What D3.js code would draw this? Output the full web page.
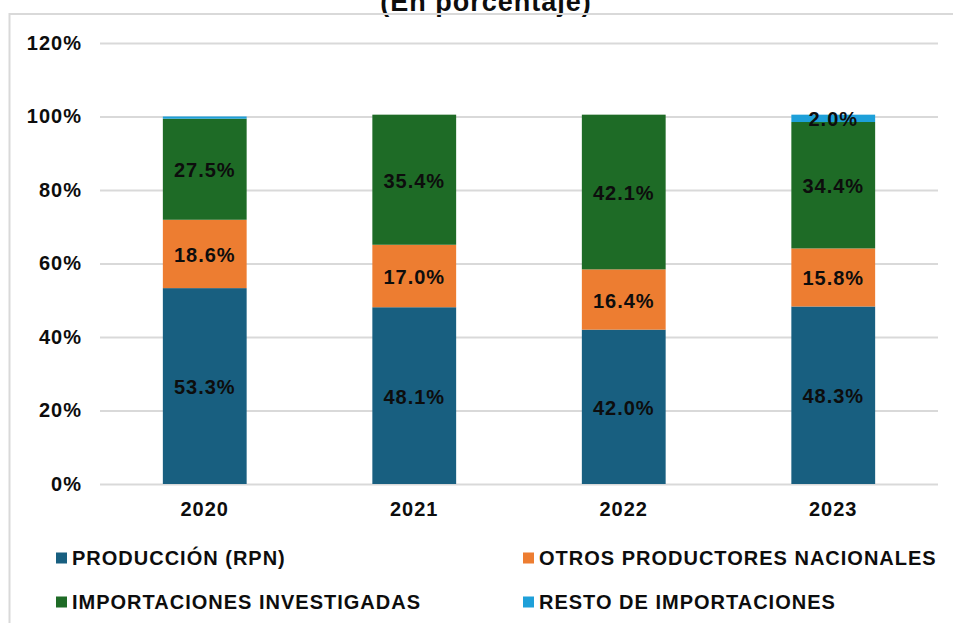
<!DOCTYPE html>
<html>
<head>
<meta charset="utf-8">
<script src="https://cdn.jsdelivr.net/npm/d3@7"></script>
<style>
  body { margin: 0; background: #fff; }
  svg text { font-family: "Liberation Sans", Arial, sans-serif; font-weight: bold; fill: #0d0d0d; }
</style>
</head>
<body>
<div id="chartArea"></div>
<script>
var years = ['2020', '2021', '2022', '2023'];
var seriesNames = ['PRODUCCIÓN (RPN)', 'OTROS PRODUCTORES NACIONALES', 'IMPORTACIONES INVESTIGADAS', 'RESTO DE IMPORTACIONES'];
var produccion = [53.3, 48.1, 42.0, 48.3];
var otros = [18.6, 17.0, 16.4, 15.8];
var investigadas = [27.5, 35.4, 42.1, 34.4];
var resto = [0.6, 0, 0, 2.0];
var yTicks = [0, 20, 40, 60, 80, 100, 120];
var colors = ['#185f80', '#ed7d31', '#1e6b26', '#1ea0d9'];

var keys = ['p', 'o', 'i', 'r'];
var table = years.map(function (y, i) {
    return {year: y, p: produccion[i], o: otros[i], i: investigadas[i], r: resto[i]};
});

var W = 953, H = 623;
var margin = {top: 43, right: 15, bottom: 139, left: 100};
var fontSize = '20px', spacing = '1px';

var svg = d3.select('#chartArea').append('svg')
    .attr('width', W)
    .attr('height', H);

// title, mostly cut off at the top
svg.append('text')
    .attr('x', 486)
    .attr('y', 11)
    .attr('text-anchor', 'middle')
    .style('font-size', '27px')
    .style('letter-spacing', '1px')
    .text('(En porcentaje)');

// frame
svg.append('path')
    .attr('d', 'M9.5,' + (H + 5) + 'V14H' + (W + 5))
    .attr('fill', 'none')
    .attr('stroke', '#d9d9d9')
    .attr('stroke-width', 2);

var xScale = d3.scaleBand()
    .domain(years)
    .range([margin.left, W - margin.right])
    .paddingInner(0.6)
    .paddingOuter(0.3);

var yScale = d3.scaleLinear()
    .domain([0, 120])
    .range([H - margin.bottom, margin.top]);

var yAxis = d3.axisLeft(yScale)
    .tickValues(yTicks)
    .tickFormat(function (d) { return d + '%'; })
    .tickSize(-(W - margin.right - margin.left))
    .tickPadding(18);

var gy = svg.append('g')
    .attr('transform', 'translate(' + margin.left + ',0)')
    .call(yAxis);
gy.select('.domain').remove();
gy.selectAll('line').attr('stroke', '#d9d9d9').attr('stroke-width', 2);
gy.selectAll('text')
    .style('font-size', fontSize)
    .style('letter-spacing', spacing)
    .attr('fill', '#0d0d0d');

var xAxis = d3.axisBottom(xScale).tickSize(0).tickPadding(18);
var gx = svg.append('g')
    .attr('transform', 'translate(0,' + (H - margin.bottom) + ')')
    .call(xAxis);
gx.select('.domain').remove();
gx.selectAll('text')
    .style('font-size', fontSize)
    .style('letter-spacing', spacing)
    .attr('fill', '#0d0d0d');

var stacked = d3.stack().keys(keys)(table);

var layers = svg.selectAll('g.layer')
    .data(stacked)
    .enter()
    .append('g')
    .attr('class', 'layer')
    .attr('fill', function (d, i) { return colors[i]; });

layers.selectAll('rect')
    .data(function (d) { return d; })
    .enter()
    .append('rect')
    .attr('x', function (d) { return xScale(d.data.year); })
    .attr('width', xScale.bandwidth())
    .attr('y', function (d) { return yScale(d[1]); })
    .attr('height', function (d) { return yScale(d[0]) - yScale(d[1]); });

layers.selectAll('text')
    .data(function (d) { return d.filter(function (s) { return s[1] - s[0] >= 1; }); })
    .enter()
    .append('text')
    .attr('x', function (d) { return xScale(d.data.year) + xScale.bandwidth() / 2; })
    .attr('y', function (d) { return yScale((d[0] + d[1]) / 2); })
    .attr('dy', '0.4em')
    .attr('text-anchor', 'middle')
    .style('font-size', fontSize)
    .style('letter-spacing', spacing)
    .text(function (d) { return (d[1] - d[0]).toFixed(1) + '%'; });

// legend, two columns
var legendPos = [[56, 558], [523, 558], [56, 602], [523, 602]];
var legend = svg.selectAll('g.legend')
    .data(seriesNames)
    .enter()
    .append('g')
    .attr('class', 'legend')
    .attr('transform', function (d, i) {
        return 'translate(' + legendPos[i][0] + ',' + legendPos[i][1] + ')';
    });

legend.append('rect')
    .attr('x', 0)
    .attr('y', -5.5)
    .attr('width', 11)
    .attr('height', 11)
    .attr('fill', function (d, i) { return colors[i]; });

legend.append('text')
    .attr('x', 16)
    .attr('dy', '0.36em')
    .style('font-size', fontSize)
    .style('letter-spacing', spacing)
    .text(function (d) { return d; });
</script>
</body>
</html>
